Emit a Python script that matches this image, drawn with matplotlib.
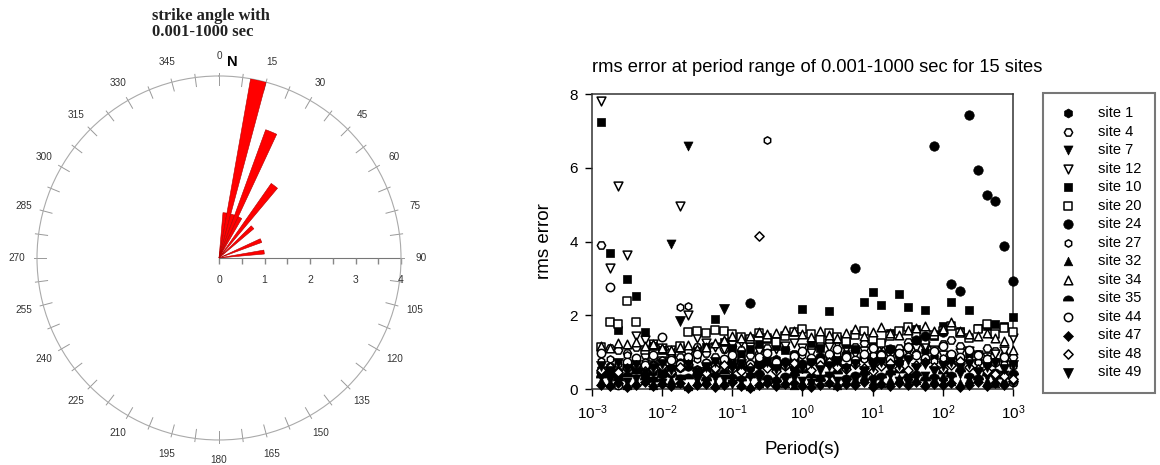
import numpy as np
import matplotlib
matplotlib.use("Agg")
import matplotlib.pyplot as plt

plt.rcParams['font.family'] = 'Liberation Sans'
plt.rcParams['mathtext.fontset'] = 'custom'
plt.rcParams['mathtext.rm'] = 'Liberation Sans'
plt.rcParams['mathtext.it'] = 'Liberation Sans'
plt.rcParams['mathtext.bf'] = 'Liberation Sans:bold'

# ---- rose diagram data (5 degree bins, number of sites) ----
bin_centers = [7.5, 12.5, 17.5, 22.5, 27.5, 37.5, 47.5, 67.5, 82.5]
bin_counts = [1, 4, 1, 3, 1, 2, 1, 1, 1]

# ---- rms error data ----
periods = [0.00133, 0.00178, 0.00237, 0.00316, 0.00422, 0.00562, 0.0075, 0.01,
           0.0133, 0.0178, 0.0237, 0.0316, 0.0422, 0.0562, 0.075, 0.1,
           0.133, 0.178, 0.237, 0.316, 0.422, 0.562, 0.75, 1.0,
           1.33, 1.78, 2.37, 3.16, 4.22, 5.62, 7.5, 10.0,
           13.3, 17.8, 23.7, 31.6, 42.2, 56.2, 75.0, 100.0,
           133, 178, 237, 316, 422, 562, 750, 1000]

site1 = [0.55, 0.62, 0.48, 0.71, 0.66, 0.52, 0.45, 0.38, 0.42, 0.58, 0.63, 0.49, 0.55, 0.71, 0.68, 0.74,
         0.62, 0.57, 0.66, 0.72, 0.81, 0.69, 0.58, 0.64, 0.75, 0.82, 0.71, 0.66, 0.59, 0.73, 0.85, 0.92,
         0.78, 0.69, 0.74, 0.88, 0.95, 1.02, 0.86, 0.79, 0.71, 0.83, 0.92, 0.77, 0.68, 0.74, 0.81, 0.69]
site4 = [3.9, 1.12, 1.05, 0.98, 1.15, 0.92, 1.21, 1.08, 0.95, 0.88, 1.02, 1.14, 0.97, 0.86, 1.09, 1.18,
         1.05, 0.93, 0.99, 1.12, 1.26, 1.08, 0.96, 1.04, 1.15, 1.22, 1.31, 1.09, 0.98, 1.13, 1.24, 1.18,
         1.06, 0.97, 1.12, 1.28, 1.35, 1.19, 1.07, 1.21, 1.33, 1.16, 1.04, 0.95, 1.11, 1.02, 0.93, 0.88]
site7 = [0.32, 0.25, 0.41, 0.18, 0.27, 0.35, 0.22, 0.15, 3.93, 0.28, 6.58, 0.24, 0.19, 0.31, 0.26, 0.14,
         0.21, 0.33, 0.27, 0.18, 0.12, 0.24, 0.3, 0.22, 0.16, 0.28, 0.35, 0.21, 0.14, 0.25, 0.32, 0.19,
         0.27, 0.38, 0.23, 0.17, 0.29, 0.36, 0.24, 0.18, 0.31, 0.42, 0.27, 0.2, 0.33, 0.25, 0.38, 0.3]
site12 = [7.8, 3.28, 5.5, 3.63, 1.45, 1.32, 1.21, 1.12, 1.05, 4.96, 2.0, 1.38, 1.25, 1.14, 1.08, 1.19,
          1.27, 1.15, 1.02, 0.96, 1.09, 1.18, 1.24, 1.11, 0.98, 1.06, 1.15, 1.22, 1.08, 0.95, 1.03, 1.12,
          1.19, 1.07, 0.94, 1.01, 1.1, 1.16, 1.05, 0.92, 0.88, 0.97, 1.04, 0.93, 0.86, 0.95, 1.02, 1.38]
site10 = [7.24, 3.69, 1.6, 2.98, 2.52, 1.54, 1.18, 1.05, 0.92, 1.12, 0.85, 1.02, 1.15, 1.9, 1.28, 1.12,
          0.95, 1.08, 1.22, 1.36, 1.18, 1.05, 0.93, 2.17, 1.25, 1.12, 2.12, 1.35, 1.21, 1.08, 2.36, 2.63,
          2.28, 1.52, 2.57, 2.22, 1.62, 2.14, 1.45, 1.72, 2.36, 1.58, 2.14, 1.66, 1.72, 1.75, 1.71, 1.95]
site20 = [1.15, 1.82, 1.76, 2.4, 1.82, 1.05, 0.88, 0.76, 0.95, 1.18, 1.55, 1.58, 1.52, 1.61, 1.56, 1.48,
          1.42, 1.35, 1.51, 1.39, 1.28, 1.45, 1.55, 1.62, 1.48, 1.35, 1.52, 1.41, 1.29, 1.46, 1.58, 1.37,
          1.25, 1.44, 1.56, 1.68, 1.49, 1.33, 1.46, 1.58, 1.72, 1.52, 1.38, 1.62, 1.75, 1.48, 1.66, 1.55]
site24 = [0.45, 0.52, 0.38, 0.61, 0.55, 0.42, 0.66, 0.48, 0.57, 0.71, 0.63, 0.52, 0.45, 0.58, 0.69, 0.62,
          0.55, 2.33, 0.74, 0.66, 0.58, 0.72, 0.81, 0.69, 0.77, 0.86, 0.73, 0.82, 0.91, 3.28, 0.88, 0.79,
          0.95, 1.08, 0.92, 1.15, 1.32, 1.45, 6.6, 1.55, 2.85, 2.66, 7.43, 5.94, 5.26, 5.1, 3.88, 2.93]
site27 = [0.75, 0.82, 0.68, 0.91, 0.85, 0.72, 0.64, 0.78, 0.88, 2.22, 2.25, 0.81, 0.73, 0.66, 0.79, 0.86,
          0.74, 0.69, 0.83, 6.75, 0.77, 0.68, 0.85, 0.92, 0.79, 0.71, 0.84, 0.96, 0.88, 0.75, 0.82, 0.93,
          0.86, 0.78, 0.71, 0.89, 0.97, 0.84, 0.76, 0.83, 0.94, 0.87, 0.79, 0.72, 0.85, 0.77, 0.69, 0.62]
site32 = [0.22, 0.15, 0.28, 0.12, 0.19, 0.25, 0.11, 0.18, 0.24, 0.16, 0.09, 0.21, 0.27, 0.14, 0.2, 0.26,
          0.13, 0.08, 0.17, 0.23, 0.29, 0.15, 0.11, 0.19, 0.25, 0.32, 0.18, 0.12, 0.21, 0.28, 0.35, 0.22,
          0.16, 0.24, 0.31, 0.38, 0.25, 0.19, 0.27, 0.34, 0.22, 0.17, 0.26, 0.33, 0.21, 0.15, 0.24, 0.3]
site34 = [1.18, 1.12, 1.25, 1.21, 1.28, 1.16, 1.22, 1.1, 1.05, 1.14, 1.2, 1.08, 1.15, 1.26, 1.32, 1.45,
          1.38, 1.44, 1.55, 1.48, 1.52, 1.61, 1.56, 1.49, 1.42, 1.58, 1.46, 1.39, 1.51, 1.62, 1.44, 1.55,
          1.68, 1.52, 1.47, 1.59, 1.65, 1.71, 1.56, 1.63, 1.82, 1.58, 1.49, 1.44, 1.52, 1.38, 1.31, 1.05]
site35 = [0.35, 0.42, 0.28, 0.39, 0.46, 0.31, 0.25, 0.37, 0.44, 0.29, 0.33, 0.41, 0.26, 0.38, 0.45, 0.32,
          0.27, 0.36, 0.43, 0.3, 0.24, 0.35, 0.42, 0.48, 0.34, 0.28, 0.39, 0.46, 0.31, 0.37, 0.44, 0.29,
          0.36, 0.43, 0.5, 0.34, 0.41, 0.27, 0.33, 0.45, 0.38, 0.52, 0.35, 0.29, 0.4, 0.47, 0.32, 0.44]
site44 = [0.98, 2.76, 0.12, 0.72, 0.85, 0.64, 0.92, 1.41, 0.78, 0.69, 0.88, 0.95, 0.71, 0.63, 0.82, 0.91,
          0.76, 0.68, 0.86, 0.97, 0.74, 0.66, 0.89, 1.02, 0.83, 0.75, 0.94, 1.08, 0.87, 0.79, 0.96, 1.12,
          0.91, 0.81, 0.98, 1.15, 0.93, 0.84, 1.02, 1.18, 0.95, 0.86, 1.05, 0.91, 0.82, 0.74, 0.88, 0.18]
site47 = [0.12, 0.08, 0.15, 0.05, 0.11, 0.18, 0.07, 0.13, 0.09, 0.16, 0.04, 0.1, 0.14, 0.06, 0.12, 0.19,
          0.08, 0.03, 0.11, 0.15, 0.07, 0.13, 0.17, 0.09, 0.05, 0.12, 0.16, 0.08, 0.14, 0.1, 0.18, 0.06,
          0.13, 0.09, 0.15, 0.11, 0.2, 0.07, 0.14, 0.1, 0.17, 0.05, 0.12, 0.19, 0.08, 0.15, 0.11, 0.22]
site48 = [0.52, 0.61, 0.45, 0.58, 0.66, 0.49, 0.55, 0.62, 0.47, 0.59, 0.68, 0.51, 0.44, 0.57, 0.64, 0.53,
          0.48, 0.61, 4.15, 0.56, 0.5, 0.63, 0.71, 0.58, 0.52, 0.65, 0.74, 0.6, 0.54, 0.67, 0.58, 0.49,
          0.62, 0.7, 0.57, 0.51, 0.64, 0.73, 0.59, 0.53, 0.66, 0.75, 0.61, 0.55, 0.48, 0.42, 0.36, 0.28]
site49 = [0.62, 0.48, 0.71, 0.55, 0.66, 0.43, 0.58, 0.69, 0.51, 1.84, 0.64, 0.47, 0.59, 0.72, 2.17, 0.56,
          0.68, 0.49, 0.61, 0.74, 0.53, 0.65, 0.46, 0.58, 0.7, 0.52, 0.63, 0.75, 0.55, 0.67, 0.48, 0.6,
          0.72, 0.54, 0.66, 0.78, 0.57, 0.69, 0.5, 0.62, 0.74, 0.56, 0.68, 0.45, 0.59, 0.71, 0.53, 0.64]

site_names = ['site 1', 'site 4', 'site 7', 'site 12', 'site 10', 'site 20', 'site 24', 'site 27',
              'site 32', 'site 34', 'site 35', 'site 44', 'site 47', 'site 48', 'site 49']
site_values = [site1, site4, site7, site12, site10, site20, site24, site27,
               site32, site34, site35, site44, site47, site48, site49]

# half-disc marker for site 35
t = np.linspace(0, np.pi, 20)
half_disc = list(zip(np.cos(t), np.sin(t) - 0.3)) + [(1, -0.3)]

# marker, filled, size
styles = [('h', True, 42), ('H', False, 36), ('v', True, 42), ('v', False, 40),
          ('s', True, 38), ('s', False, 38), ('o', True, 46), ('h', False, 28),
          ('^', True, 38), ('^', False, 38), (half_disc, True, 55), ('o', False, 36),
          ('D', True, 26), ('D', False, 22), ('v', True, 52)]

fig = plt.figure(figsize=(11.6, 4.65), dpi=100)

# ================= left: rose diagram =================
axr = fig.add_axes([0.0319, 0.0538, 0.3138, 0.7828], projection='polar')
axr.set_theta_zero_location('N')
axr.set_theta_direction(-1)
axr.set_ylim(0, 4)
axr.grid(False)
axr.set_xticks([])
axr.set_yticks([])
axr.spines['polar'].set_color('#aaaaaa')
axr.spines['polar'].set_linewidth(0.8)

axr.bar(np.deg2rad(bin_centers), bin_counts, width=np.deg2rad(5),
        color='red', edgecolor='#b00000', linewidth=0.4, zorder=3)

# angular ticks and labels
for a in np.arange(0, 360, 7.5):
    axr.plot([np.deg2rad(a)] * 2, [3.8, 4.07], color='#999999', lw=0.7, clip_on=False)
for a in range(0, 360, 15):
    axr.text(np.deg2rad(a), 4.45, str(a), ha='center', va='center',
             fontsize=7.2, color='#333333', clip_on=False)

# radial scale along 90 deg
radial_ticks = [0, 0.5, 1, 1.5, 2, 2.5, 3, 3.5, 4]
axr.plot([np.pi / 2, np.pi / 2], [0, 4], color='#777777', lw=0.8)
axr.plot([np.pi / 2] * len(radial_ticks), radial_ticks, linestyle='none',
         marker=3, markersize=4, color='#888888', clip_on=False)
for v in [0, 1, 2, 3, 4]:
    axr.annotate(str(v), xy=(np.pi / 2, v), xytext=(0, -16), textcoords='offset points',
                 ha='center', va='center', fontsize=7.5, color='#333333')

fig.text(232 / 1160, 1 - 62 / 465, 'N', fontsize=10.5, fontweight='bold',
         ha='center', va='center')
fig.text(152 / 1160, 1 - 24 / 465, 'strike angle with\n0.001-1000 sec',
         fontsize=12, fontweight='bold', family='Liberation Serif',
         ha='left', va='center', linespacing=1.05, color='#222222')

# ================= right: rms error scatter =================
ax = fig.add_axes([0.5103, 0.1634, 0.3629, 0.6344])
for name, vals, (mk, filled, sz) in zip(site_names, site_values, styles):
    if filled:
        ax.scatter(periods, vals, marker=mk, s=sz, c='black', linewidths=0.5,
                   label=name, clip_on=False, zorder=3)
    else:
        ax.scatter(periods, vals, marker=mk, s=sz, facecolors='white', edgecolors='black',
                   linewidths=1.1, label=name, clip_on=False, zorder=3)

ax.set_xscale('log')
ax.set_xlim(1e-3, 1e3)
ax.set_ylim(0, 8)
ax.set_xticks([1e-3, 1e-2, 1e-1, 1e0, 1e1, 1e2, 1e3])
ax.minorticks_off()
ax.set_yticks([0, 2, 4, 6, 8])
ax.tick_params(direction='out', length=5, width=1, labelsize=11, pad=5)
for s in ax.spines.values():
    s.set_linewidth(1.1)
    s.set_color('#333333')
ax.set_xlabel('Period(s)', fontsize=13.5, labelpad=14)
ax.set_ylabel('rms error', fontsize=13.5, labelpad=12)

fig.text(592 / 1160, 1 - 67 / 465, 'rms error at period range of 0.001-1000 sec for 15 sites',
         fontsize=13.2, ha='left', va='center')

h, l = ax.get_legend_handles_labels()
leg = fig.legend(h, l, loc='upper left', bbox_to_anchor=(1043 / 1160, 1 - 93 / 465),
                 frameon=True, fancybox=False, fontsize=10.5, labelspacing=0.31,
                 handlelength=1.6, handletextpad=1.3, borderpad=0.9, borderaxespad=0)
leg.get_frame().set_edgecolor('#555555')
leg.get_frame().set_linewidth(1.5)

fig.savefig('out.png', dpi=100, facecolor='white')
